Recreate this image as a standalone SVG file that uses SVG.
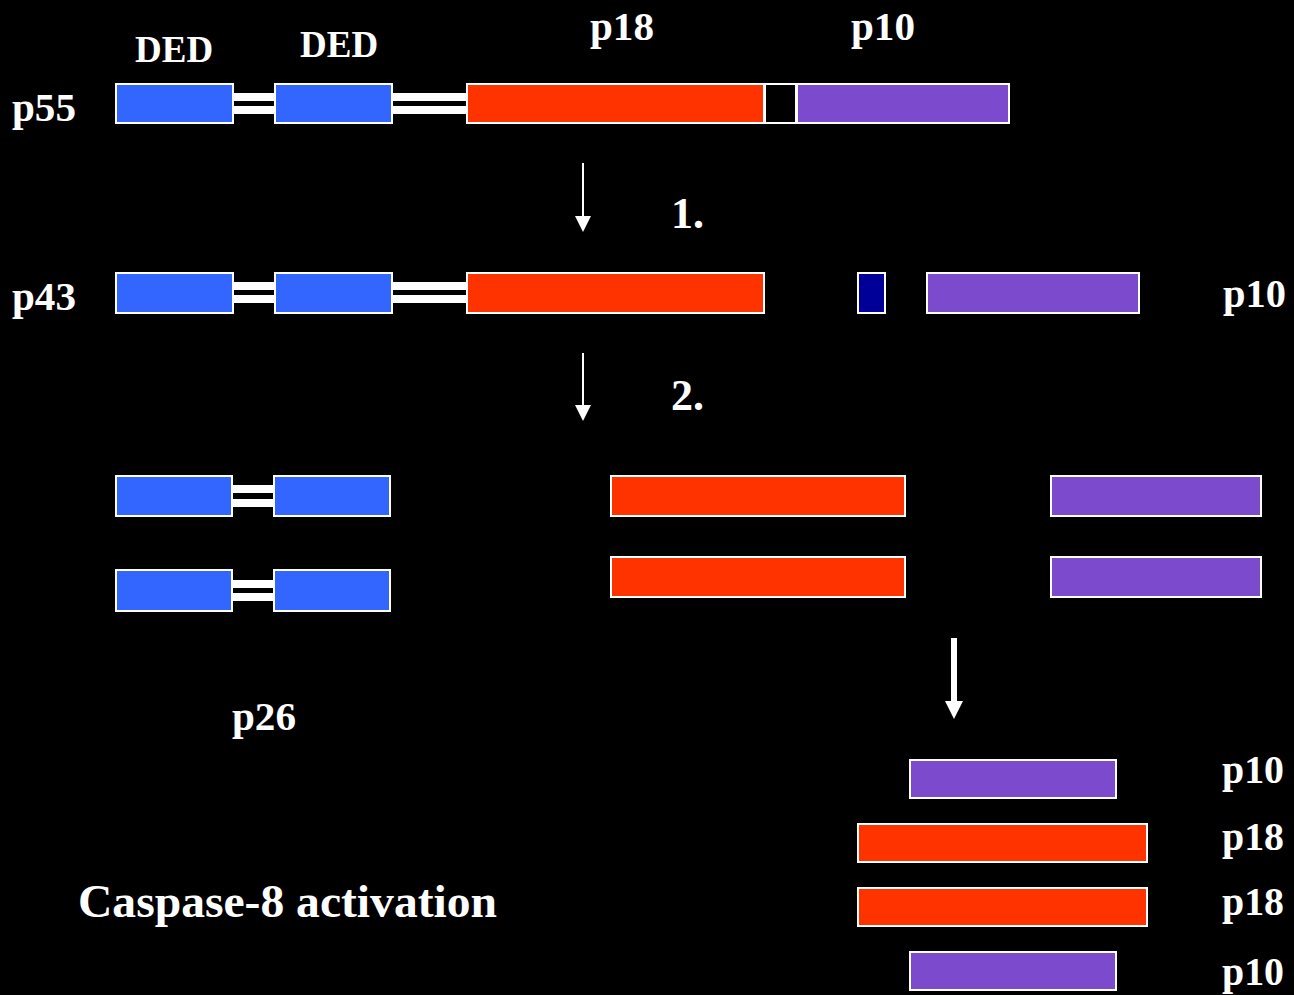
<svg xmlns="http://www.w3.org/2000/svg" width="1294" height="995" viewBox="0 0 1294 995">
  <style>
    .lbl { font-family: "Liberation Serif", "Times New Roman", serif; font-weight: bold; fill: #ffffff; }
    .p { font-size: 40px; }
    .ded { font-size: 37px; }
    .step { font-size: 44px; }
    .title { font-size: 47px; }
    rect.dom { stroke: #ffffff; stroke-width: 2; }
    .ded-c { fill: #3366ff; }
    .p18-c { fill: #ff3300; }
    .p10-c { fill: #7b4acd; }
    .link-c { fill: #000000; }
    .pro-c { fill: #000099; }
    .bar { fill: #ffffff; }
    .arrow { stroke: #ffffff; fill: none; }
  </style>
  <defs>
    <marker id="headThin" markerUnits="userSpaceOnUse" markerWidth="16" markerHeight="16" refX="0" refY="8" orient="auto">
      <path d="M0,0 L16,8 L0,16 z" fill="#ffffff"/>
    </marker>
    <marker id="headBold" markerUnits="userSpaceOnUse" markerWidth="18" markerHeight="18" refX="0" refY="9" orient="auto">
      <path d="M0,0 L18,9 L0,18 z" fill="#ffffff"/>
    </marker>
  </defs>

  <rect x="0" y="0" width="1294" height="995" fill="#000000"/>

  <!-- full-length procaspase p55 -->
  <g id="p55">
    <rect class="bar" x="233" y="93" width="42" height="8"/>
    <rect class="bar" x="233" y="106" width="42" height="8"/>
    <rect class="bar" x="392" y="93" width="75" height="8"/>
    <rect class="bar" x="392" y="106" width="75" height="8"/>
    <rect class="dom ded-c" x="116" y="84" width="117" height="39"/>
    <rect class="dom ded-c" x="275" y="84" width="117" height="39"/>
    <rect class="dom p18-c" x="467" y="84" width="297" height="39"/>
    <rect class="dom link-c" x="765" y="84" width="31" height="39"/>
    <rect class="dom p10-c" x="797" y="84" width="212" height="39"/>
    <text class="lbl p" x="12" y="121" textLength="64" lengthAdjust="spacingAndGlyphs">p55</text>
    <text class="lbl ded" x="135" y="62">DED</text>
    <text class="lbl ded" x="300" y="57">DED</text>
    <text class="lbl p" x="590" y="40" textLength="64" lengthAdjust="spacingAndGlyphs">p18</text>
    <text class="lbl p" x="851" y="40" textLength="64" lengthAdjust="spacingAndGlyphs">p10</text>
  </g>

  <!-- first cleavage products: p43 + linker + p10 -->
  <g id="p43">
    <rect class="bar" x="233" y="282" width="42" height="8"/>
    <rect class="bar" x="233" y="295" width="42" height="8"/>
    <rect class="bar" x="392" y="282" width="75" height="8"/>
    <rect class="bar" x="392" y="295" width="75" height="8"/>
    <rect class="dom ded-c" x="116" y="273" width="117" height="40"/>
    <rect class="dom ded-c" x="275" y="273" width="117" height="40"/>
    <rect class="dom p18-c" x="467" y="273" width="297" height="40"/>
    <text class="lbl p" x="12" y="310" textLength="64" lengthAdjust="spacingAndGlyphs">p43</text>
  </g>
  <g id="linker">
    <rect class="dom pro-c" x="858" y="273" width="27" height="40"/>
  </g>
  <g id="p10-free">
    <rect class="dom p10-c" x="927" y="273" width="212" height="40"/>
    <text class="lbl p" x="1223" y="307" textLength="63" lengthAdjust="spacingAndGlyphs">p10</text>
  </g>

  <!-- second cleavage: p26 prodomains -->
  <g id="p26">
    <rect class="bar" x="232" y="485" width="42" height="8"/>
    <rect class="bar" x="232" y="499" width="42" height="8"/>
    <rect class="dom ded-c" x="116" y="476" width="116" height="40"/>
    <rect class="dom ded-c" x="274" y="476" width="116" height="40"/>
    <rect class="bar" x="232" y="580" width="42" height="8"/>
    <rect class="bar" x="232" y="593" width="42" height="8"/>
    <rect class="dom ded-c" x="116" y="570" width="116" height="41"/>
    <rect class="dom ded-c" x="274" y="570" width="116" height="41"/>
    <text class="lbl p" x="232" y="730" textLength="64" lengthAdjust="spacingAndGlyphs">p26</text>
  </g>
  <g id="p18-pair">
    <rect class="dom p18-c" x="611" y="476" width="294" height="40"/>
    <rect class="dom p18-c" x="611" y="557" width="294" height="40"/>
  </g>
  <g id="p10-pair">
    <rect class="dom p10-c" x="1051" y="476" width="210" height="40"/>
    <rect class="dom p10-c" x="1051" y="557" width="210" height="40"/>
  </g>

  <!-- active heterotetramer -->
  <g id="tetramer">
    <rect class="dom p10-c" x="910" y="760" width="206" height="38"/>
    <rect class="dom p18-c" x="858" y="824" width="289" height="38"/>
    <rect class="dom p18-c" x="858" y="888" width="289" height="38"/>
    <rect class="dom p10-c" x="910" y="952" width="206" height="38"/>
    <text class="lbl p" x="1222" y="783" textLength="62" lengthAdjust="spacingAndGlyphs">p10</text>
    <text class="lbl p" x="1222" y="850" textLength="62" lengthAdjust="spacingAndGlyphs">p18</text>
    <text class="lbl p" x="1222" y="915" textLength="62" lengthAdjust="spacingAndGlyphs">p18</text>
    <text class="lbl p" x="1222" y="985" textLength="62" lengthAdjust="spacingAndGlyphs">p10</text>
  </g>

  <!-- processing steps -->
  <g id="connectors">
    <line class="arrow" x1="583" y1="163" x2="583" y2="216" stroke-width="2" marker-end="url(#headThin)"/>
    <line class="arrow" x1="583" y1="353" x2="583" y2="405" stroke-width="2" marker-end="url(#headThin)"/>
    <line class="arrow" x1="954" y1="638" x2="954" y2="701" stroke-width="6" marker-end="url(#headBold)"/>
    <text class="lbl step" x="671" y="228">1.</text>
    <text class="lbl step" x="671" y="410">2.</text>
  </g>

  <text class="lbl title" x="78" y="917" textLength="419" lengthAdjust="spacingAndGlyphs">Caspase-8 activation</text>
</svg>
